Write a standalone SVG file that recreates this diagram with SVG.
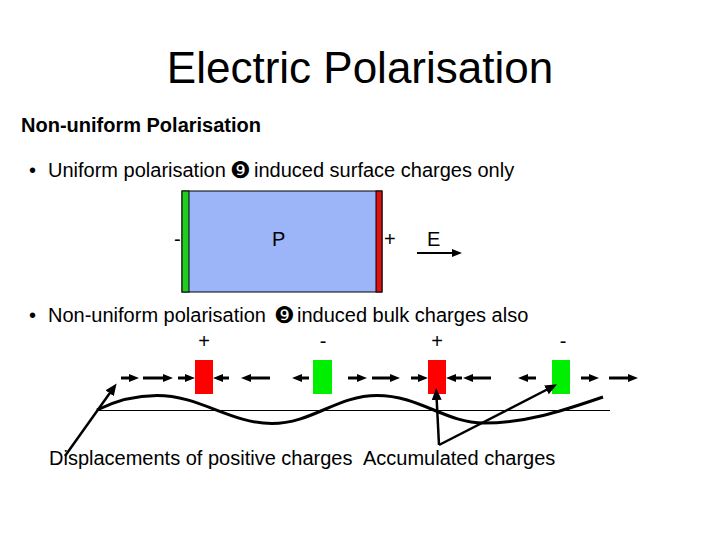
<svg xmlns="http://www.w3.org/2000/svg" width="720" height="540" viewBox="0 0 720 540">
<style>
text{font-family:"Liberation Sans",Arial,sans-serif;fill:#000}
.t{font-size:20px}
.b{font-size:20px;font-weight:bold}
.dg{font-family:"DejaVu Sans",sans-serif;font-size:23px}
.ar{stroke:#000;stroke-width:3;fill:none}
.pt{stroke:#000;stroke-width:2.5;fill:none}
</style>
<defs>
<marker id="h" markerUnits="userSpaceOnUse" markerWidth="10" markerHeight="8" refX="3" refY="4" orient="auto">
<path d="M0,0 L10,4 L0,8 z" fill="#000"/>
</marker>
<marker id="h2" markerUnits="userSpaceOnUse" markerWidth="12" markerHeight="10" refX="4" refY="5" orient="auto">
<path d="M0,0 L12,5 L0,10 z" fill="#000"/>
</marker>
</defs>
<rect width="720" height="540" fill="#fff"/>

<g id="title"><text x="360" y="83" font-size="44" text-anchor="middle">Electric Polarisation</text></g>
<g id="heading"><text class="b" x="21" y="132">Non-uniform Polarisation</text></g>
<g id="bullet1">
<text class="t" x="29" y="177">•</text>
<text class="t" x="48" y="177">Uniform polarisation</text>
<text class="dg" x="230" y="178">❾</text>
<text class="t" x="254" y="177">induced surface charges only</text>
</g>

<g id="slab">
<rect x="182" y="191" width="200" height="101" fill="#9CB4F8" stroke="#000" stroke-width="1"/>
<rect x="182" y="191" width="7" height="101" fill="#22CC22" stroke="#000" stroke-width="1"/>
<rect x="376" y="191" width="6" height="101" fill="#DD1111" stroke="#000" stroke-width="1"/>
<text class="t" x="174" y="246">-</text>
<text class="t" x="272" y="246">P</text>
<text class="t" x="384" y="246">+</text>
<text class="t" x="427" y="246">E</text>
</g>

<g id="bullet2">
<text class="t" x="29" y="322">•</text>
<text class="t" x="48" y="322">Non-uniform polarisation</text>
<text class="dg" x="274" y="323">❾</text>
<text class="t" x="297" y="322">induced bulk charges also</text>
</g>

<g id="charge1"><rect x="195" y="360" width="18" height="34" fill="#FF0000"/><text class="t" x="204" y="348" text-anchor="middle">+</text></g>
<g id="charge2"><rect x="313" y="360" width="19" height="34" fill="#00EE00"/><text class="t" x="323" y="348" text-anchor="middle">-</text></g>
<g id="charge3"><rect x="428" y="360" width="18" height="34" fill="#FF0000"/><text class="t" x="437" y="348" text-anchor="middle">+</text></g>
<g id="charge4"><rect x="552" y="360" width="18" height="34" fill="#00EE00"/><text class="t" x="563" y="348" text-anchor="middle">-</text></g>

<g id="labels">
<text class="t" x="49" y="465">Displacements of positive charges</text>
<text class="t" x="363" y="465">Accumulated charges</text>
</g>

<g id="connectors">
<line x1="417" y1="253" x2="455" y2="253" stroke="#000" stroke-width="2" marker-end="url(#h)"/>
<line x1="98" y1="410.5" x2="610" y2="410.5" stroke="#000" stroke-width="1"/>
<path class="ar" d="M97,410 C115,401 135,395.5 157,395.5 C200,395.5 230,423.5 272,423.5 C312,423.5 337,395.5 377,395.5 C420,395.5 445,423 484,423 C530,423 570,408 603,397"/>
<g class="ar">
<line x1="121" y1="378" x2="132" y2="378" marker-end="url(#h)"/>
<line x1="143" y1="378" x2="166" y2="378" marker-end="url(#h)"/>
<line x1="178" y1="378" x2="188" y2="378" marker-end="url(#h)"/>
<line x1="229" y1="378" x2="220" y2="378" marker-end="url(#h)"/>
<line x1="270" y1="378" x2="248" y2="378" marker-end="url(#h)"/>
<line x1="309" y1="378" x2="299" y2="378" marker-end="url(#h)"/>
<line x1="348" y1="378" x2="360" y2="378" marker-end="url(#h)"/>
<line x1="372" y1="378" x2="393" y2="378" marker-end="url(#h)"/>
<line x1="411" y1="378" x2="421" y2="378" marker-end="url(#h)"/>
<line x1="462" y1="378" x2="453" y2="378" marker-end="url(#h)"/>
<line x1="491" y1="378" x2="470" y2="378" marker-end="url(#h)"/>
<line x1="536" y1="378" x2="525" y2="378" marker-end="url(#h)"/>
<line x1="581" y1="378" x2="592" y2="378" marker-end="url(#h)"/>
<line x1="609" y1="378" x2="631" y2="378" marker-end="url(#h)"/>
</g>
<g class="pt">
<line x1="65" y1="456" x2="112" y2="390" marker-end="url(#h2)"/>
<line x1="439" y1="445" x2="436.5" y2="396" marker-end="url(#h2)"/>
<line x1="439" y1="445" x2="550" y2="388" marker-end="url(#h2)"/>
</g>
</g>
</svg>
